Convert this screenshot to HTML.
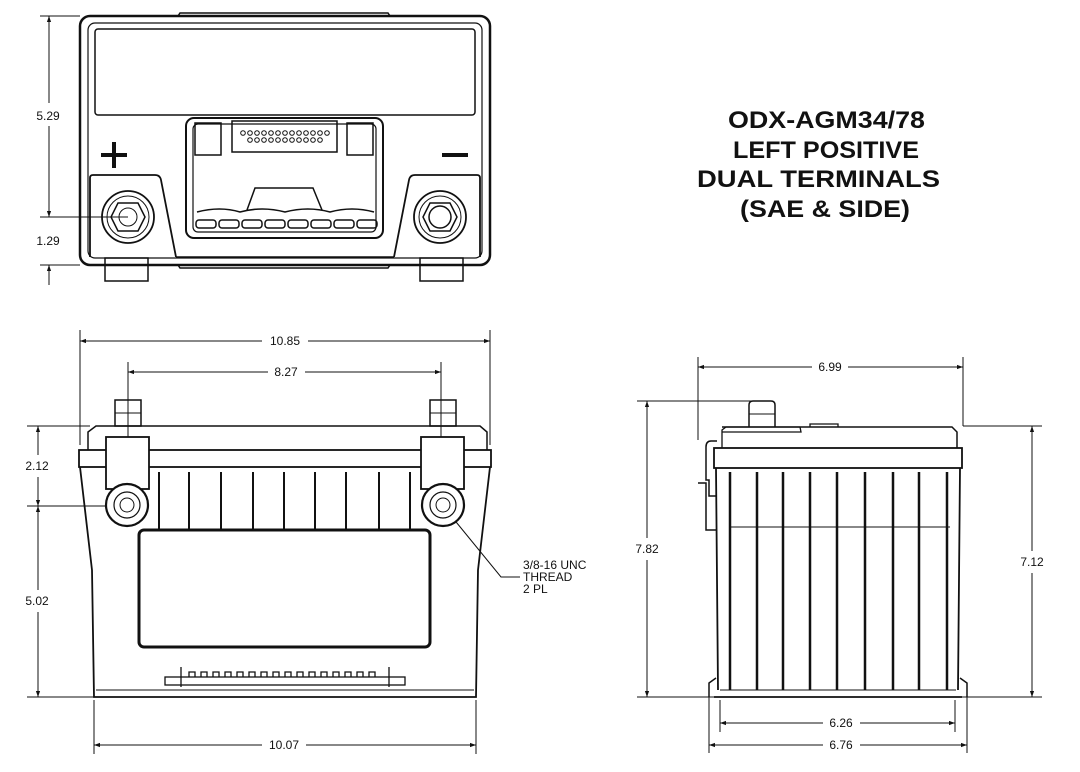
<!DOCTYPE html>
<html><head><meta charset="utf-8"><style>
html,body{margin:0;padding:0;background:#fff;}
svg{display:block;}
text{font-family:"Liberation Sans",Arial,sans-serif;fill:#111;}
.d{font-size:12px;}
.t{font-size:24px;font-weight:bold;}
</style></head><body>
<svg width="1080" height="772" viewBox="0 0 1080 772" xmlns="http://www.w3.org/2000/svg">
<defs>
<marker id="a" viewBox="0 0 10 10" refX="10" refY="5" markerWidth="8" markerHeight="6" orient="auto-start-reverse" markerUnits="userSpaceOnUse"><path d="M0,1.5 L10,5 L0,8.5 z" fill="#111"/></marker>
</defs>
<g stroke="#111" fill="none">
<!-- ===== TOP VIEW ===== -->
<rect x="80" y="16" width="410" height="249" rx="10" stroke-width="2.5"/>
<rect x="88" y="23" width="394" height="235" rx="7" stroke-width="1.2"/>
<path d="M178,16 L180,13 H388 L390,16" stroke-width="1.5"/>
<path d="M178,265 L180,268 H388 L390,265" stroke-width="1.5"/>
<rect x="95" y="29" width="380" height="86" rx="3" stroke-width="1.5"/>
<!-- handle -->
<rect x="186" y="118" width="197" height="120" rx="8" stroke-width="2"/>
<rect x="193" y="124" width="183" height="108" rx="5" stroke-width="1.2"/>
<rect x="232" y="121" width="105" height="31" stroke-width="1.5"/>
<g stroke-width="1">
<circle cx="243" cy="133" r="2.3"/><circle cx="250" cy="133" r="2.3"/><circle cx="257" cy="133" r="2.3"/><circle cx="264" cy="133" r="2.3"/><circle cx="271" cy="133" r="2.3"/><circle cx="278" cy="133" r="2.3"/><circle cx="285" cy="133" r="2.3"/><circle cx="292" cy="133" r="2.3"/><circle cx="299" cy="133" r="2.3"/><circle cx="306" cy="133" r="2.3"/><circle cx="313" cy="133" r="2.3"/><circle cx="320" cy="133" r="2.3"/><circle cx="327" cy="133" r="2.3"/>
<circle cx="250" cy="140" r="2.3"/><circle cx="257" cy="140" r="2.3"/><circle cx="264" cy="140" r="2.3"/><circle cx="271" cy="140" r="2.3"/><circle cx="278" cy="140" r="2.3"/><circle cx="285" cy="140" r="2.3"/><circle cx="292" cy="140" r="2.3"/><circle cx="299" cy="140" r="2.3"/><circle cx="306" cy="140" r="2.3"/><circle cx="313" cy="140" r="2.3"/><circle cx="320" cy="140" r="2.3"/>
</g>
<rect x="195" y="123" width="26" height="32" stroke-width="1.5"/>
<rect x="347" y="123" width="26" height="32" stroke-width="1.5"/>
<path d="M247,210 L255,188 H313 L322,210" stroke-width="1.5"/>
<path d="M197,212 Q220,206 240,212 Q262,206 285,212 Q308,206 330,212 Q352,206 374,212" stroke-width="1.5"/>
<g stroke-width="1.5">
<rect x="196" y="220" width="20" height="8" rx="3"/><rect x="219" y="220" width="20" height="8" rx="3"/><rect x="242" y="220" width="20" height="8" rx="3"/><rect x="265" y="220" width="20" height="8" rx="3"/><rect x="288" y="220" width="20" height="8" rx="3"/><rect x="311" y="220" width="20" height="8" rx="3"/><rect x="334" y="220" width="20" height="8" rx="3"/><rect x="357" y="220" width="20" height="8" rx="3"/>
</g>
<!-- terminal pockets -->
<path d="M90,257 V178 Q90,175 93,175 H155 Q160,175 161,180 L176,257" stroke-width="1.8"/>
<path d="M480,257 V178 Q480,175 477,175 H415 Q410,175 409,180 L394,257" stroke-width="1.8"/>
<line x1="176" y1="257" x2="394" y2="257" stroke-width="1.5"/>
<circle cx="128" cy="217" r="26" stroke-width="1.8"/><circle cx="128" cy="217" r="21" stroke-width="1"/>
<path d="M118,203 L138,203 L145,217 L138,231 L118,231 L111,217 z" stroke-width="1.5"/>
<circle cx="128" cy="217" r="9" stroke-width="1"/>
<circle cx="440" cy="217" r="26" stroke-width="1.8"/><circle cx="440" cy="217" r="21" stroke-width="1"/>
<path d="M430,203 L450,203 L457,217 L450,231 L430,231 L423,217 z" stroke-width="1.5"/>
<circle cx="440" cy="217" r="11" stroke-width="1.5"/>
<!-- feet -->
<rect x="105" y="258" width="43" height="23" stroke-width="1.5"/>
<rect x="420" y="258" width="43" height="23" stroke-width="1.5"/>
<!-- +/- -->
<path d="M101,155 H127 M114,142 V168" stroke-width="4"/>
<path d="M442,155 H468" stroke-width="4"/>
<!-- top dims -->
<g stroke-width="1">
<line x1="40" y1="16" x2="80" y2="16"/><line x1="40" y1="217" x2="128" y2="217"/><line x1="40" y1="265" x2="80" y2="265"/>
<line x1="49" y1="16" x2="49" y2="103" marker-start="url(#a)"/><line x1="49" y1="126" x2="49" y2="217" marker-end="url(#a)"/>
<line x1="49" y1="285" x2="49" y2="265" marker-end="url(#a)"/>
</g>
<!-- ===== FRONT VIEW ===== -->
<g stroke-width="1">
<line x1="80" y1="330" x2="80" y2="445"/><line x1="490" y1="330" x2="490" y2="445"/>
<line x1="80" y1="341" x2="262" y2="341" marker-start="url(#a)"/><line x1="308" y1="341" x2="490" y2="341" marker-end="url(#a)"/>
<line x1="128" y1="362" x2="128" y2="505"/><line x1="441" y1="362" x2="441" y2="505"/>
<line x1="128" y1="372" x2="268" y2="372" marker-start="url(#a)"/><line x1="305" y1="372" x2="441" y2="372" marker-end="url(#a)"/>
<line x1="27" y1="426" x2="90" y2="426"/><line x1="27" y1="506" x2="115" y2="506"/><line x1="27" y1="697" x2="94" y2="697"/>
<line x1="38" y1="426" x2="38" y2="455" marker-start="url(#a)"/><line x1="38" y1="477" x2="38" y2="506" marker-end="url(#a)"/>
<line x1="38" y1="506" x2="38" y2="590" marker-start="url(#a)"/><line x1="38" y1="612" x2="38" y2="697" marker-end="url(#a)"/>
<line x1="94" y1="700" x2="94" y2="754"/><line x1="476" y1="700" x2="476" y2="754"/>
<line x1="94" y1="745" x2="262" y2="745" marker-start="url(#a)"/><line x1="306" y1="745" x2="476" y2="745" marker-end="url(#a)"/>
<path d="M452,517 L501,577 H520"/>
</g>
<rect x="115" y="400" width="26" height="26" stroke-width="1.5"/><line x1="115" y1="413" x2="141" y2="413"/>
<rect x="430" y="400" width="26" height="26" stroke-width="1.5"/><line x1="430" y1="413" x2="456" y2="413"/>
<path d="M88,450 V432 L96,426 H480 L487,432 V450" stroke-width="1.5"/>
<rect x="79" y="450" width="412" height="17" stroke-width="1.8"/>
<path d="M80,467 L92,570 L94,697 H476 L478,570 L490,467" stroke-width="1.8"/>
<line x1="96" y1="690" x2="474" y2="690" stroke-width="1"/>
<g stroke-width="2">
<line x1="159" y1="472" x2="159" y2="530"/><line x1="189" y1="472" x2="189" y2="530"/><line x1="221" y1="472" x2="221" y2="530"/><line x1="253" y1="472" x2="253" y2="530"/><line x1="284" y1="472" x2="284" y2="530"/><line x1="315" y1="472" x2="315" y2="530"/><line x1="346" y1="472" x2="346" y2="530"/><line x1="379" y1="472" x2="379" y2="530"/><line x1="410" y1="472" x2="410" y2="530"/>
</g>
<rect x="106" y="437" width="43" height="52" fill="#fff" stroke-width="1.8"/>
<rect x="421" y="437" width="43" height="52" fill="#fff" stroke-width="1.8"/>
<circle cx="127" cy="505" r="21" fill="#fff" stroke-width="2.2"/><circle cx="127" cy="505" r="13" stroke-width="1.2"/><circle cx="127" cy="505" r="7" stroke-width="1"/>
<circle cx="443" cy="505" r="21" fill="#fff" stroke-width="2.2"/><circle cx="443" cy="505" r="13" stroke-width="1.2"/><circle cx="443" cy="505" r="7" stroke-width="1"/>
<rect x="139" y="530" width="291" height="117" rx="5" stroke-width="3"/>
<!-- vent comb -->
<g stroke-width="1.3">
<rect x="165" y="677" width="240" height="8"/>
<line x1="181" y1="667" x2="181" y2="687"/><line x1="389" y1="667" x2="389" y2="687"/>
<path d="M189,677 v-5 h6 v5 M201,677 v-5 h6 v5 M213,677 v-5 h6 v5 M225,677 v-5 h6 v5 M237,677 v-5 h6 v5 M249,677 v-5 h6 v5 M261,677 v-5 h6 v5 M273,677 v-5 h6 v5 M285,677 v-5 h6 v5 M297,677 v-5 h6 v5 M309,677 v-5 h6 v5 M321,677 v-5 h6 v5 M333,677 v-5 h6 v5 M345,677 v-5 h6 v5 M357,677 v-5 h6 v5 M369,677 v-5 h6 v5"/>
</g>
<!-- ===== SIDE VIEW ===== -->
<g stroke-width="1">
<line x1="698" y1="357" x2="698" y2="440"/><line x1="963" y1="357" x2="963" y2="426"/>
<line x1="698" y1="367" x2="812" y2="367" marker-start="url(#a)"/><line x1="848" y1="367" x2="963" y2="367" marker-end="url(#a)"/>
<line x1="637" y1="401" x2="753" y2="401"/><line x1="637" y1="697" x2="1042" y2="697"/><line x1="963" y1="426" x2="1042" y2="426"/>
<line x1="647" y1="401" x2="647" y2="538" marker-start="url(#a)"/><line x1="647" y1="560" x2="647" y2="697" marker-end="url(#a)"/>
<line x1="1032" y1="426" x2="1032" y2="551" marker-start="url(#a)"/><line x1="1032" y1="573" x2="1032" y2="697" marker-end="url(#a)"/>
<line x1="709" y1="690" x2="709" y2="753"/><line x1="967" y1="690" x2="967" y2="753"/>
<line x1="720" y1="700" x2="720" y2="732"/><line x1="955" y1="700" x2="955" y2="732"/>
<line x1="720" y1="723" x2="823" y2="723" marker-start="url(#a)"/><line x1="860" y1="723" x2="955" y2="723" marker-end="url(#a)"/>
<line x1="709" y1="745" x2="823" y2="745" marker-start="url(#a)"/><line x1="860" y1="745" x2="967" y2="745" marker-end="url(#a)"/>
</g>
<path d="M749,427 V405 Q749,401 753,401 H771 Q775,401 775,405 V427" stroke-width="1.5"/>
<line x1="749" y1="414" x2="775" y2="414" stroke-width="1"/>
<path d="M722,448 V430 L726,427 H800 M810,427 V424 H838 V427 M800,427 L801,432 H722" stroke-width="1.3"/>
<path d="M722,427 H952 L957,432 V448" stroke-width="1.5"/>
<rect x="714" y="448" width="248" height="20" stroke-width="1.8"/>
<path d="M716,468 L718,690 M960,468 L958,690" stroke-width="1.8"/>
<path d="M709,697 V683 L716,678 M967,697 V683 L960,678" stroke-width="1.5"/>
<line x1="714" y1="697" x2="962" y2="697" stroke-width="1.8"/>
<line x1="720" y1="690" x2="956" y2="690" stroke-width="1"/>
<line x1="730" y1="527" x2="950" y2="527" stroke-width="1"/>
<g stroke-width="2.5">
<line x1="730" y1="472" x2="730" y2="690"/><line x1="757" y1="472" x2="757" y2="690"/><line x1="783" y1="472" x2="783" y2="690"/><line x1="810" y1="472" x2="810" y2="690"/><line x1="837" y1="472" x2="837" y2="690"/><line x1="865" y1="472" x2="865" y2="690"/><line x1="893" y1="472" x2="893" y2="690"/><line x1="919" y1="472" x2="919" y2="690"/><line x1="947" y1="472" x2="947" y2="690"/>
</g>
<path d="M717,441 H711 Q706,441 706,447 V480 H709 V496 H717" stroke-width="1.5"/>
<path d="M698,483 H706 V530 H716" stroke-width="1.5"/>
</g>
<!-- text -->
<text class="d" x="48" y="120" text-anchor="middle">5.29</text>
<text class="d" x="48" y="245" text-anchor="middle">1.29</text>
<text class="d" x="285" y="345" text-anchor="middle">10.85</text>
<text class="d" x="286" y="376" text-anchor="middle">8.27</text>
<text class="d" x="37" y="470" text-anchor="middle">2.12</text>
<text class="d" x="37" y="605" text-anchor="middle">5.02</text>
<text class="d" x="284" y="749" text-anchor="middle">10.07</text>
<text class="d" x="523" y="569">3/8-16 UNC</text>
<text class="d" x="523" y="581">THREAD</text>
<text class="d" x="523" y="593">2 PL</text>
<text class="d" x="830" y="371" text-anchor="middle">6.99</text>
<text class="d" x="647" y="553" text-anchor="middle">7.82</text>
<text class="d" x="1032" y="566" text-anchor="middle">7.12</text>
<text class="d" x="841" y="727" text-anchor="middle">6.26</text>
<text class="d" x="841" y="749" text-anchor="middle">6.76</text>
<text class="t" x="728" y="128" textLength="197" lengthAdjust="spacingAndGlyphs">ODX-AGM34/78</text>
<text class="t" x="733" y="158" textLength="186" lengthAdjust="spacingAndGlyphs">LEFT POSITIVE</text>
<text class="t" x="697" y="187" textLength="243" lengthAdjust="spacingAndGlyphs">DUAL TERMINALS</text>
<text class="t" x="740" y="217" textLength="170" lengthAdjust="spacingAndGlyphs">(SAE &amp; SIDE)</text>
</svg>
</body></html>
